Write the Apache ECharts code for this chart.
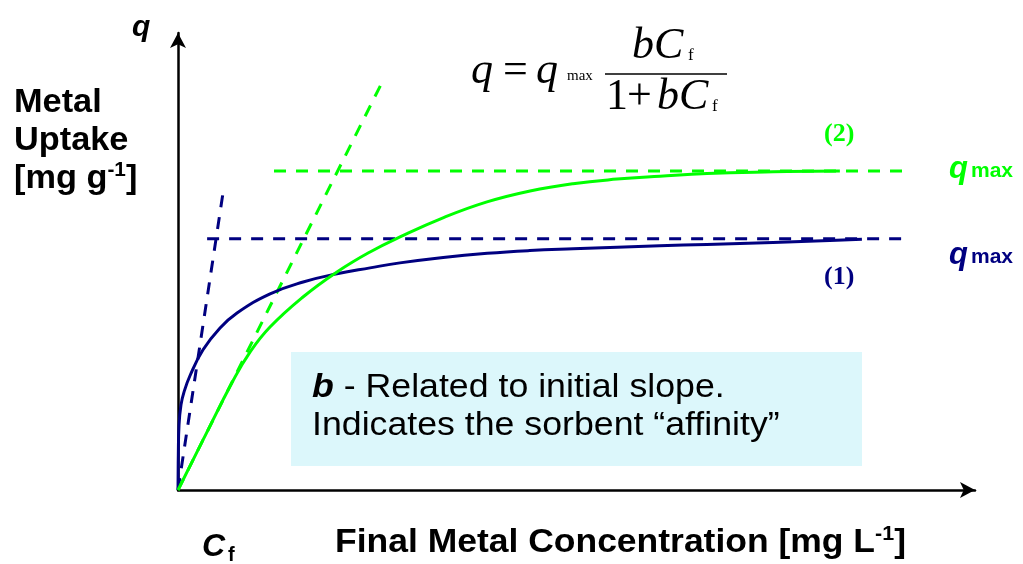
<!DOCTYPE html>
<html>
<head>
<meta charset="utf-8">
<script src="https://cdn.jsdelivr.net/npm/echarts@6/dist/echarts.min.js"></script>
<style>
  html, body { margin: 0; padding: 0; background: #fff; }
  #chartmain { width: 1023px; height: 564px; }
</style>
</head>
<body>
<div id="chartmain"></div>
<script>
// curve (1) - high affinity sorbent
var conc1 = [0, 0.04, 0.13, 0.38, 0.76, 1.52, 3.18, 5.34, 7.5, 11.7, 15.9, 20.2, 24.4, 28.2, 33.7, 39.3, 44.7, 50.2, 55.8, 61.2, 67.2, 75.6, 82.8, 86.9];
var uptake1 = [0, 7.7, 14.3, 18.7, 21.5, 25.1, 30.8, 35.6, 38.9, 43.1, 45.7, 47.5, 48.8, 49.9, 51.1, 52.0, 52.6, 53.0, 53.35, 53.65, 53.95, 54.4, 54.8, 55.1];
// curve (2)
var conc2 = [0, 3.18, 6.99, 9.15, 11.69, 15.88, 20.2, 24.4, 28.21, 33.67, 39.26, 44.73, 50.19, 55.78, 61.25, 67.22, 75.6, 84.1];
var uptake2 = [0, 11.0, 24.0, 30.3, 35.8, 42.4, 47.9, 52.3, 55.6, 59.8, 63.3, 65.7, 67.3, 68.3, 68.95, 69.55, 69.9, 70.1];
// qmax levels and the dashed guide lines
var qmax1 = 55.2, qmax2 = 70.1;
var qmaxFrom1 = 3.7, qmaxFrom2 = 12.2, qmaxTo = 92.8;
var slope1End = [5.72, 65.3];
var slope2End = [26.2, 90.5];

var NAVY = '#000080', GREEN = '#00ff00';
var SANS = '"Liberation Sans", Arial, sans-serif';
var SERIF = '"Liberation Serif", "Times New Roman", serif';

function zip(xs, ys) {
    return xs.map(function (x, i) { return [x, ys[i]]; });
}
// text helper, y is roughly the baseline
function txt(x, base, str, font, size, color, off) {
    return {
        type: 'text', x: x, y: base - (off || 0.2) * size, z: 10,
        style: { text: str, font: font.replace('SZ', size + 'px'), fill: color, align: 'left', verticalAlign: 'middle' }
    };
}

var chart = echarts.init(document.getElementById('chartmain'));

var dash = [12, 10];
var axisCommon = {
    type: 'value', min: 0,
    axisLine: { show: true, symbol: ['none', 'arrow'], symbolSize: [12, 15], lineStyle: { color: '#000', width: 2.5 } },
    axisTick: { show: false }, axisLabel: { show: false }, splitLine: { show: false }
};
var option = {
    animation: false,
    grid: { left: 178, right: 48, top: 33, bottom: 74 },
    xAxis: Object.assign({ max: 101.27 }, axisCommon),
    yAxis: Object.assign({ max: 100.4 }, axisCommon),
    graphic: [
        { type: 'rect', shape: { x: 291, y: 352, width: 571, height: 114 }, style: { fill: '#dcf7fb' }, z: 0 },
        {
            type: 'text', x: 312, y: 369, z: 10, scaleX: 1.05,
            style: {
                text: '{bi|b} - Related to initial slope.\nIndicates the sorbent \u201caffinity\u201d',
                font: '34px ' + SANS, fill: '#000', lineHeight: 38, verticalAlign: 'top',
                rich: { bi: { font: 'bold italic 34px ' + SANS, lineHeight: 38 } }
            }
        },
        // y axis label
        txt(132, 34, 'q', 'bold italic SZ ' + SANS, 30, '#000'),
        {
            type: 'text', x: 14, y: 84, z: 10, scaleX: 1.04,
            style: {
                text: 'Metal\nUptake\n[mg g{sup|-1}]',
                font: 'bold 33px ' + SANS, fill: '#000', lineHeight: 38, verticalAlign: 'top',
                rich: { sup: { font: 'bold 20px ' + SANS, lineHeight: 20, verticalAlign: 'top' } }
            }
        },
        // x axis label
        txt(202, 554, 'C', 'bold italic SZ ' + SANS, 32, '#000'),
        txt(228, 559, 'f', 'bold SZ ' + SANS, 20, '#000'),
        {
            type: 'text', x: 335, y: 524, z: 10, scaleX: 1.075,
            style: {
                text: 'Final Metal Concentration [mg L{sup|-1}]',
                font: 'bold 33px ' + SANS, fill: '#000', lineHeight: 38, verticalAlign: 'top',
                rich: { sup: { font: 'bold 20px ' + SANS, lineHeight: 20, verticalAlign: 'top' } }
            }
        },
        // curve tags
        txt(824, 142, '(2)', 'bold SZ ' + SERIF, 26, GREEN, 0.3),
        txt(824, 285, '(1)', 'bold SZ ' + SERIF, 26, NAVY, 0.3),
        txt(949, 176, 'q', 'bold italic SZ ' + SANS, 31, GREEN),
        txt(971, 175, 'max', 'bold SZ ' + SANS, 21, GREEN),
        txt(949, 262, 'q', 'bold italic SZ ' + SANS, 31, NAVY),
        txt(971, 261, 'max', 'bold SZ ' + SANS, 21, NAVY),
        // Langmuir equation
        txt(471, 86, 'q', 'italic SZ ' + SERIF, 44, '#000', 0.33),
        txt(503, 86, '=', 'SZ ' + SERIF, 44, '#000', 0.33),
        txt(536, 86, 'q', 'italic SZ ' + SERIF, 44, '#000', 0.33),
        txt(567, 81, 'max', 'SZ ' + SERIF, 15, '#000', 0.33),
        { type: 'line', shape: { x1: 605, y1: 74, x2: 727, y2: 74 }, style: { stroke: '#000', lineWidth: 1.6 }, z: 10 },
        txt(632, 61, 'bC', 'italic SZ ' + SERIF, 44, '#000', 0.33),
        txt(688, 61, 'f', 'SZ ' + SERIF, 17, '#000', 0.33),
        txt(606, 112, '1', 'SZ ' + SERIF, 44, '#000', 0.33),
        txt(627, 112, '+', 'SZ ' + SERIF, 44, '#000', 0.33),
        txt(657, 112, 'bC', 'italic SZ ' + SERIF, 44, '#000', 0.33),
        txt(712, 112, 'f', 'SZ ' + SERIF, 17, '#000', 0.33)
    ],
    series: [
        {
            name: 'slope1', type: 'line', data: [[0, 0], slope1End], showSymbol: false, silent: true,
            lineStyle: { color: NAVY, width: 3, type: dash }, z: 3
        },
        {
            name: 'qmax1', type: 'line', data: [[qmaxFrom1, qmax1], [qmaxTo, qmax1]], showSymbol: false, silent: true,
            lineStyle: { color: NAVY, width: 3, type: dash }, z: 3
        },
        {
            name: 'slope2', type: 'line', data: [[0, 0], slope2End], showSymbol: false, silent: true,
            lineStyle: { color: GREEN, width: 3, type: dash }, z: 3
        },
        {
            name: 'qmax2', type: 'line', data: [[qmaxFrom2, qmax2], [qmaxTo, qmax2]], showSymbol: false, silent: true,
            lineStyle: { color: GREEN, width: 3, type: dash }, z: 3
        },
        {
            name: '(1)', type: 'line', data: zip(conc1, uptake1), smooth: 0.45, showSymbol: false,
            lineStyle: { color: NAVY, width: 3 }, z: 4
        },
        {
            name: '(2)', type: 'line', data: zip(conc2, uptake2), smooth: 0.45, showSymbol: false,
            lineStyle: { color: GREEN, width: 3 }, z: 4
        }
    ]
};
chart.setOption(option);
</script>
</body>
</html>
